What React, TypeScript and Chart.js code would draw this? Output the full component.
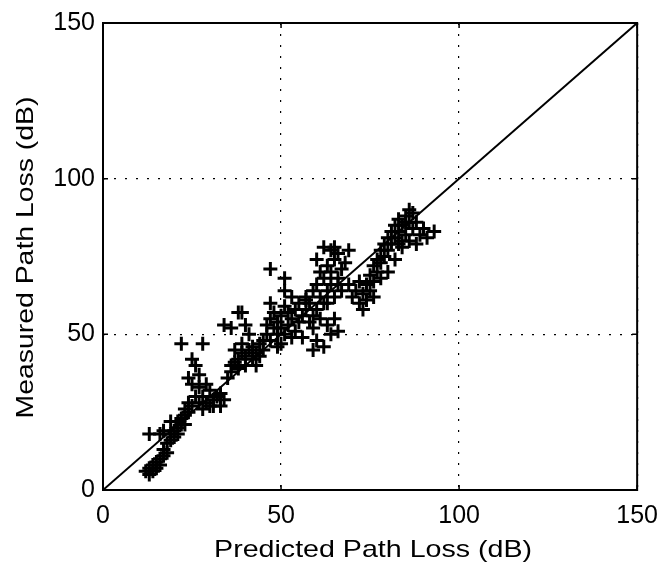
import React, { useEffect, useRef } from "react";
import { Chart, registerables } from "chart.js";

Chart.register(...registerables);

const predicted: number[] = [
  12, 13, 13, 14, 14, 15, 15, 16, 16, 17, 17, 18, 18, 19, 19, 20, 20, 21, 21, 22, 22, 23, 23, 24, 24, 25, 13, 16, 17, 19,
  22, 28, 25, 26, 24, 25, 27, 27, 28, 29, 30, 31, 32, 33, 34, 30, 29, 26, 27, 28,
  35, 36, 36, 37, 38, 38, 39, 40, 40, 41, 42, 42, 43, 44, 44, 45, 45, 37, 39, 41, 38, 36, 39, 34, 40,
  46, 46, 47, 47, 48, 48, 49, 49, 50, 50, 50, 51, 51, 52, 52, 53, 53, 54, 54, 55, 55, 47, 51, 51, 53, 47,
  56, 56, 57, 57, 58, 58, 59, 59, 60, 60, 61, 61, 62, 62, 63, 63, 64, 64, 65, 65, 66, 66, 67, 67, 68, 64, 60, 62, 64, 63, 65, 66, 59, 61, 60, 62, 65, 69,
  69, 70, 71, 72, 72, 73, 74, 74, 75, 75, 76, 76, 77, 77, 78, 78, 79, 79, 80, 80, 81, 81, 82, 82, 83, 83, 84, 84, 85, 85, 86, 86, 87, 87, 88, 84, 86, 88, 89, 91, 93, 90, 80, 82, 78, 76, 73,
  21, 23, 31, 33, 43, 49, 57, 59, 63, 66, 83, 85,
];
const measured: number[] = [
  6, 5, 7, 6, 8, 7, 9, 8, 10, 11, 13, 12, 15, 16, 18, 17, 19, 20, 22, 21, 23, 24, 26, 25, 28, 27, 18, 18, 19, 22,
  47, 47, 42, 40, 36, 34, 37, 33, 30, 28, 27, 29, 30, 27, 29, 32, 34, 30, 28, 26,
  36, 38, 40, 41, 42, 39, 44, 40, 43, 45, 42, 46, 44, 47, 43, 48, 45, 45, 47, 50, 57, 52, 57, 53, 53,
  50, 53, 55, 48, 52, 57, 50, 54, 47, 52, 56, 59, 50, 53, 57, 49, 55, 58, 51, 54, 60, 71, 68, 64, 62, 60,
  56, 49, 58, 62, 54, 60, 52, 64, 58, 66, 55, 62, 60, 68, 64, 72, 66, 70, 62, 74, 68, 76, 71, 64, 73, 77, 48, 46, 50, 53, 55, 51, 45, 70, 74, 78, 78, 77,
  66, 62, 64, 60, 67, 63, 61, 66, 64, 69, 67, 72, 70, 74, 73, 77, 75, 79, 77, 81, 79, 83, 81, 85, 83, 87, 80, 85, 88, 82, 86, 90, 84, 89, 86, 78, 80, 79, 82, 81, 83, 84, 70, 74, 68, 62, 58,
  18, 21, 27, 31, 40, 46, 61, 56, 60, 66, 79, 86,
];
const diagX: number[] = [0, 150];
const diagY: number[] = [0, 150];
const tickValues: number[] = [0, 50, 100, 150];
const xTitle = "Predicted Path Loss (dB)";
const yTitle = "Measured Path Loss (dB)";

const FONT = "'Liberation Sans', Arial, Helvetica, sans-serif";

function drawStretched(ctx: CanvasRenderingContext2D, text: string, cx: number, cy: number, width: number, rot: number) {
  ctx.save();
  ctx.translate(cx, cy);
  ctx.rotate(rot);
  const w = ctx.measureText(text).width;
  ctx.scale(width / w, 1);
  ctx.textAlign = "center";
  ctx.textBaseline = "middle";
  ctx.fillText(text, 0, 0);
  ctx.restore();
}

const frame = {
  id: "frame",
  afterDatasetsDraw(chart: any) {
    const { ctx, chartArea: a } = chart;
    ctx.save();
    ctx.strokeStyle = "#000";
    ctx.lineWidth = 2;
    ctx.strokeRect(a.left, a.top, a.right - a.left, a.bottom - a.top);
    ctx.lineWidth = 1.5;
    const xs = chart.scales.x;
    const ys = chart.scales.y;
    for (const v of tickValues) {
      const px = xs.getPixelForValue(v);
      const py = ys.getPixelForValue(v);
      ctx.beginPath();
      ctx.moveTo(px, a.bottom); ctx.lineTo(px, a.bottom - 5);
      ctx.moveTo(px, a.top); ctx.lineTo(px, a.top + 5);
      ctx.moveTo(a.left, py); ctx.lineTo(a.left + 5, py);
      ctx.moveTo(a.right, py); ctx.lineTo(a.right - 5, py);
      ctx.stroke();
    }
    ctx.fillStyle = "#000";
    ctx.font = `24px ${FONT}`;
    const xcx = (a.left + a.right) / 2 + 3;
    drawStretched(ctx, xTitle, xcx, 550, 318, 0);
    drawStretched(ctx, yTitle, 26, (a.top + a.bottom) / 2 + 1, 322, -Math.PI / 2);
    ctx.restore();
  },
};

export default function App() {
  const ref = useRef<HTMLCanvasElement | null>(null);
  useEffect(() => {
    if (!ref.current) return;
    const points = predicted.map((x, i) => ({ x, y: measured[i] }));
    const diag = diagX.map((x, i) => ({ x, y: diagY[i] }));
    const chart = new Chart(ref.current, {
      type: "scatter",
      data: {
        datasets: [
          {
            type: "line",
            data: diag,
            borderColor: "#000",
            borderWidth: 2,
            pointRadius: 0,
            showLine: true,
            order: 2,
          } as any,
          {
            data: points,
            pointStyle: "cross",
            pointRadius: 7,
            borderColor: "#000",
            backgroundColor: "#000",
            pointBorderWidth: 3,
            borderWidth: 3,
            order: 1,
          } as any,
        ],
      },
      options: {
        animation: false,
        responsive: false,
        maintainAspectRatio: false,
        layout: { padding: { top: 20, right: 30, left: 0, bottom: 0 } },
        plugins: { legend: { display: false }, tooltip: { enabled: false } },
        scales: {
          x: {
            type: "linear",
            min: 0,
            max: 150,
            afterBuildTicks: (s: any) => { s.ticks = tickValues.map((v) => ({ value: v })); },
            afterFit: (s: any) => { s.height = 75; },
            ticks: { color: "#000", font: { family: FONT, size: 25 }, padding: 11, maxRotation: 0 },
            grid: { color: "#000", lineWidth: 1.2, drawTicks: false },
            border: { display: false, dash: [2, 9] },
            title: { display: false, text: xTitle },
          },
          y: {
            type: "linear",
            min: 0,
            max: 150,
            afterBuildTicks: (s: any) => { s.ticks = tickValues.map((v) => ({ value: v })); },
            afterFit: (s: any) => { s.width = 103; },
            ticks: { color: "#000", font: { family: FONT, size: 25 }, padding: 8 },
            grid: { color: "#000", lineWidth: 1.2, drawTicks: false },
            border: { display: false, dash: [2, 9] },
            title: { display: false, text: yTitle },
          },
        },
      },
      plugins: [frame],
    });
    return () => chart.destroy();
  }, []);
  return (
    <div style={{ position: "absolute", left: 0, top: 0, width: 669, height: 565, background: "#fff" }}>
      <canvas ref={ref} width={669} height={565} style={{ width: 669, height: 565, display: "block" }} />
    </div>
  );
}
